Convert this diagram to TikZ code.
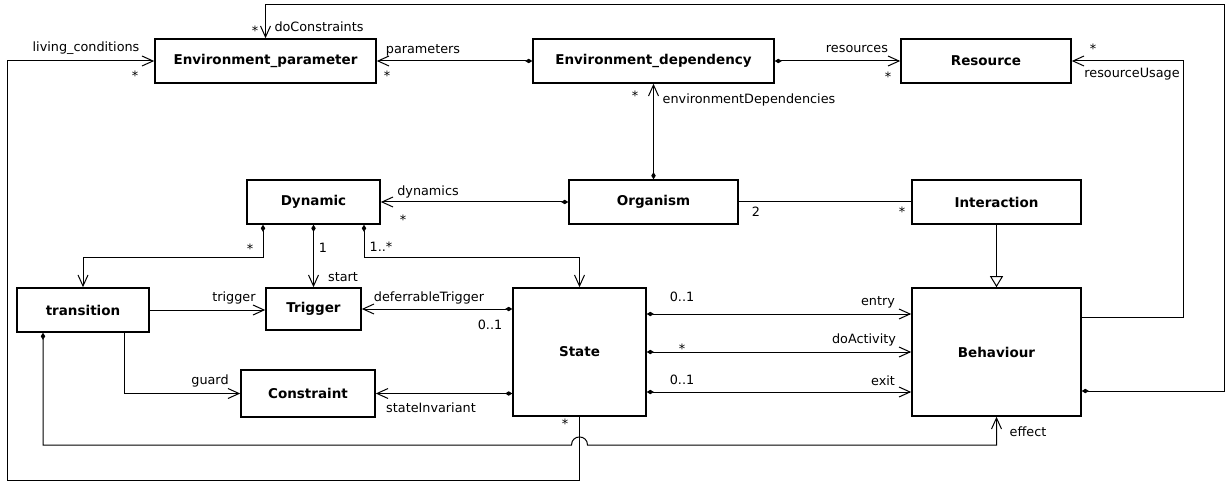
\documentclass[tikz,border=0pt]{standalone}
\usepackage{fontspec}
\setmainfont{DejaVu Sans}
\usetikzlibrary{arrows.meta}
\begin{document}
\begin{tikzpicture}[x=1pt,y=-1pt,
  box/.style={draw,fill=white,line width=1.6pt,inner sep=0pt,font=\bfseries\fontsize{13.5}{15}\selectfont},
  lab/.style={inner sep=0pt,font=\fontsize{12.8}{14}\selectfont},
  conn/.style={line width=1pt},
  nav/.style={conn,-{Straight Barb[length=11pt,width=10pt]}},
  compnav/.style={conn,{Diamond[length=7pt,width=4.5pt]}-{Straight Barb[length=11pt,width=10pt]}},
  gen/.style={conn,-{Triangle[open,length=11pt,width=13pt,fill=white]}}]
\useasboundingbox (0,0) rectangle (1226,481);
% classes
\node[box,minimum width=221pt,minimum height=44pt] (ep) at (265.5,61) {Environment\_parameter};
\node[box,minimum width=241pt,minimum height=44pt] (ed) at (653.5,61) {Environment\_dependency};
\node[box,minimum width=170pt,minimum height=44pt] (res) at (986,61) {Resource};
\node[box,minimum width=133pt,minimum height=44pt] (dyn) at (313.5,202) {Dynamic};
\node[box,minimum width=169pt,minimum height=44pt] (org) at (653.5,202) {Organism};
\node[box,minimum width=169pt,minimum height=44pt] (int) at (996.5,202) {Interaction};
\node[box,minimum width=132pt,minimum height=44pt] (tr) at (83,310) {transition};
\node[box,minimum width=95pt,minimum height=42pt] (trig) at (313.5,309) {Trigger};
\node[box,minimum width=133pt,minimum height=128pt] (st) at (579.5,352) {State};
\node[box,minimum width=134pt,minimum height=47pt] (con) at (308,393.5) {Constraint};
\node[box,minimum width=169pt,minimum height=128pt] (beh) at (996.5,352) {Behaviour};
% bend points
\coordinate (k1) at (263,257);
\coordinate (k2) at (83,257);
\coordinate (k3) at (364,257);
\coordinate (k4) at (579.5,257);
\coordinate (k5) at (124,393.5);
\coordinate (k6) at (780,314);
\coordinate (k7) at (780,392);
\coordinate (k8) at (1183,317);
\coordinate (k9) at (1224,391);
\coordinate (k10) at (1224,5);
\coordinate (k12) at (7,480);
\coordinate (k13) at (43,445);
\coordinate (hop) at (579.5,445);
% connectors
\draw[compnav] (ed.west) -- (ep.east);
\draw[compnav] (ed.east) -- (res.west);
\draw[compnav] (org.north) -- (ed.south);
\draw[compnav] (org.west) -- (dyn.east);
\draw[conn] (org.east) -- (int.west);
\draw[gen] (int.south) -- (beh.north);
\draw[compnav] (dyn.south -| k1) -- (k1) -- (k2) -- (tr.north);
\draw[compnav] (dyn.south) -- (trig.north);
\draw[compnav] (dyn.south -| k3) -- (k3) -- (k4) -- (st.north);
\draw[nav] (tr.east) -- (tr.east -| trig.west);
\draw[compnav] (st.west |- trig.east) -- (trig.east);
\draw[nav] (tr.south -| k5) -- (k5) -- (con.west);
\draw[compnav] (st.west |- con.east) -- (con.east);
\draw[compnav] (st.east |- k6) -- (beh.west |- k6);
\draw[compnav] (st.east) -- (beh.west);
\draw[compnav] (st.east |- k7) -- (beh.west |- k7);
\draw[nav] (beh.east |- k8) -- (k8) |- (res.east);
\draw[compnav] (beh.east |- k9) -- (k9) -- (k10) -- (ep.north |- k10) -- (ep.north);
\draw[nav] (st.south) -- (st.south |- k12) -- (k12) |- (ep.west);
\draw[compnav] (tr.south -| k13) -- (k13) -- ([xshift=-8pt]hop) .. controls +(0,-10.7) and +(0,-10.7) .. ([xshift=8pt]hop) -- (beh.south |- k13) -- (beh.south);
% labels
\node[lab] (l1) at (86,48) {living\_conditions};
\node[lab] (l2) at (135,76) {*};
\node[lab] (l3) at (255,31) {*};
\node[lab] (l4) at (319,27) {doConstraints};
\node[lab] (l5) at (423,50) {parameters};
\node[lab] (l6) at (387,76) {*};
\node[lab] (l7) at (857,49) {resources};
\node[lab] (l8) at (888,77) {*};
\node[lab] (l9) at (1093,49) {*};
\node[lab] (l10) at (1132,74) {resourceUsage};
\node[lab] (l11) at (635,96) {*};
\node[lab] (l12) at (749,100) {environmentDependencies};
\node[lab] (l13) at (428,192) {dynamics};
\node[lab] (l14) at (403,220) {*};
\node[lab] (l15) at (756,212) {2};
\node[lab] (l16) at (902,212) {*};
\node[lab] (l17) at (250,249) {*};
\node[lab] (l18) at (323,248) {1};
\node[lab] (l19) at (381,247) {1..*};
\node[lab] (l20) at (343,277) {start};
\node[lab] (l21) at (234,298) {trigger};
\node[lab] (l22) at (429,298) {deferrableTrigger};
\node[lab] (l23) at (490,325) {0..1};
\node[lab] (l24) at (210,381) {guard};
\node[lab] (l25) at (431,408) {stateInvariant};
\node[lab] (l26) at (565,424) {*};
\node[lab] (l27) at (682,297) {0..1};
\node[lab] (l28) at (878,302) {entry};
\node[lab] (l29) at (682,349) {*};
\node[lab] (l30) at (864,340) {doActivity};
\node[lab] (l31) at (682,380) {0..1};
\node[lab] (l32) at (883,381) {exit};
\node[lab] (l33) at (1028,432) {effect};
\end{tikzpicture}
\end{document}
